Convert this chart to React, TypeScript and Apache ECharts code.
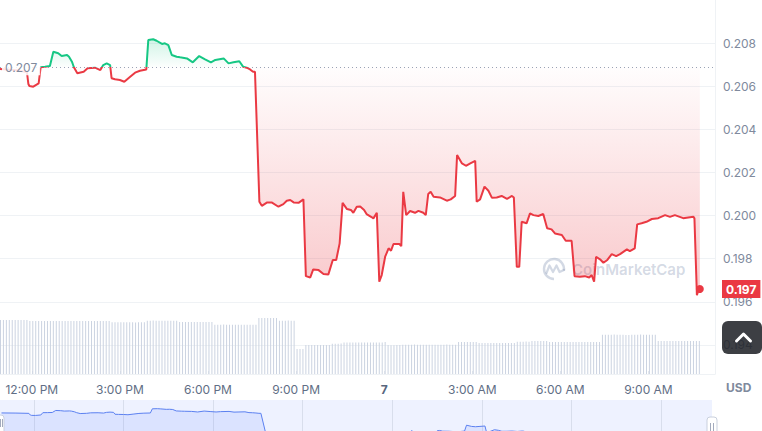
import React, { useEffect, useRef } from 'react';
import * as echarts from 'echarts';

// time in minutes since midnight of day 6 (10:55 AM ... 10:45 AM next day)
const priceMinutes = [
  655, 684, 710, 713, 715, 723, 734, 738, 747, 757,
  764, 774, 781, 792, 796, 802, 806, 813, 826, 834,
  849, 860, 866, 873, 880, 883, 890, 900, 909, 921,
  931, 941, 954, 958, 968, 975, 986, 992, 999, 1006,
  1016, 1023, 1037, 1049, 1062, 1074, 1086, 1095, 1112, 1122,
  1132, 1144, 1152, 1159, 1166, 1172, 1176, 1185, 1190, 1201,
  1210, 1224, 1234, 1241, 1248, 1255, 1265, 1275, 1280, 1289,
  1295, 1306, 1316, 1326, 1335, 1342, 1349, 1355, 1364, 1372,
  1377, 1384, 1391, 1399, 1404, 1415, 1418, 1425, 1430, 1435,
  1442, 1449, 1454, 1459, 1471, 1475, 1479, 1485, 1493, 1503,
  1510, 1520, 1525, 1530, 1535, 1541, 1554, 1568, 1576, 1585,
  1589, 1599, 1607, 1616, 1626, 1629, 1636, 1645, 1653, 1660,
  1670, 1680, 1691, 1701, 1705, 1711, 1716, 1721, 1731, 1738,
  1745, 1755, 1765, 1773, 1782, 1789, 1803, 1811, 1823, 1829,
  1840, 1850, 1859, 1864, 1869, 1873, 1881, 1888, 1896, 1905,
  1914, 1922, 1936, 1942, 1952, 1957, 1966, 1976, 1987, 2000,
  2014, 2024, 2034, 2051, 2072, 2074, 2079, 2082, 2085,
];

const prices = [
  0.20680, 0.20675, 0.20666, 0.20610, 0.20601, 0.20598, 0.20613, 0.20688, 0.20690, 0.20694,
  0.20760, 0.20753, 0.20740, 0.20745, 0.20737, 0.20714, 0.20688, 0.20660, 0.20667, 0.20683,
  0.20686, 0.20675, 0.20698, 0.20706, 0.20698, 0.20637, 0.20632, 0.20629, 0.20621, 0.20644,
  0.20663, 0.20672, 0.20678, 0.20814, 0.20818, 0.20811, 0.20796, 0.20799, 0.20791, 0.20745,
  0.20737, 0.20734, 0.20729, 0.20711, 0.20740, 0.20725, 0.20711, 0.20722, 0.20729, 0.20706,
  0.20711, 0.20716, 0.20690, 0.20686, 0.20678, 0.20667, 0.20667, 0.20064, 0.20045, 0.20061,
  0.20061, 0.20041, 0.20053, 0.20069, 0.20072, 0.20061, 0.20059, 0.20075, 0.19719, 0.19713,
  0.19750, 0.19747, 0.19729, 0.19727, 0.19794, 0.19794, 0.19871, 0.20059, 0.20030, 0.20026,
  0.20013, 0.20041, 0.20042, 0.20026, 0.20007, 0.19992, 0.19987, 0.20013, 0.19693, 0.19724,
  0.19809, 0.19848, 0.19837, 0.19868, 0.19868, 0.19858, 0.20110, 0.20002, 0.20021, 0.20013,
  0.20022, 0.20013, 0.20002, 0.20100, 0.20110, 0.20087, 0.20084, 0.20069, 0.20075, 0.20091,
  0.20281, 0.20242, 0.20231, 0.20242, 0.20254, 0.20064, 0.20075, 0.20134, 0.20115, 0.20083,
  0.20084, 0.20091, 0.20077, 0.20091, 0.20084, 0.19762, 0.19762, 0.19971, 0.19964, 0.20010,
  0.20002, 0.19998, 0.20007, 0.19941, 0.19936, 0.19917, 0.19910, 0.19883, 0.19883, 0.19719,
  0.19716, 0.19719, 0.19713, 0.19724, 0.19693, 0.19809, 0.19797, 0.19781, 0.19794, 0.19821,
  0.19812, 0.19821, 0.19843, 0.19835, 0.19848, 0.19959, 0.19964, 0.19971, 0.19984, 0.19988,
  0.20002, 0.19994, 0.20002, 0.19988, 0.19994, 0.19987, 0.19631, 0.19654, 0.19659,
];

const openPrice = 0.206877;

// volume bars (millions), one every 6 minutes from 10:56 AM
const volumeStartMin = 656;
const volumeStepMin = 6;
const volumes = [
  5.40, 5.41, 5.40, 5.40, 5.39, 5.40, 5.40, 5.41, 5.40, 5.40,
  5.31, 5.30, 5.30, 5.30, 5.31, 5.30, 5.30, 5.30, 5.29, 5.30,
  5.30, 5.30, 5.31, 5.30, 5.30, 5.30, 5.30, 5.30, 5.30, 5.31,
  5.30, 5.30, 5.30, 5.30, 5.30, 5.30, 5.29, 5.30,
  5.17, 5.17, 5.17, 5.18, 5.17, 5.17, 5.17, 5.17, 5.16, 5.17, 5.17, 5.17,
  5.33, 5.33, 5.34, 5.33, 5.33, 5.33, 5.33, 5.32, 5.33, 5.33, 5.33,
  5.20, 5.20, 5.20, 5.21, 5.20, 5.20, 5.20, 5.20, 5.19, 5.20, 5.20, 5.20,
  4.93, 4.93, 4.93, 4.94, 4.93, 4.93, 4.93, 4.93, 4.92, 4.93, 4.93, 4.93, 4.93, 4.93, 4.93,
  5.60, 5.60, 5.61, 5.60, 5.60, 5.60, 5.59,
  5.33, 5.33, 5.33, 5.34, 5.33, 5.33,
  2.50, 2.50, 2.50,
  2.90, 2.90, 2.91, 2.90, 2.90, 2.90, 2.89, 2.90, 2.90,
  3.03, 3.03, 3.03, 3.04,
  3.15, 3.15, 3.15, 3.16, 3.15, 3.15, 3.15, 3.15, 3.14, 3.15, 3.15, 3.15, 3.15, 3.16, 3.20,
  2.90, 2.88, 2.88, 2.90, 2.90,
  2.93, 2.93, 2.93, 2.93, 2.94, 2.93, 2.93, 2.93, 2.93, 2.92,
  2.93, 2.93, 2.93, 2.93, 2.93, 2.94, 2.93, 2.93, 2.93,
  3.20, 3.20, 3.20, 3.21, 3.20, 3.20, 3.20,
  3.10, 3.10, 3.10, 3.11, 3.10, 3.10, 3.10, 3.10, 3.09, 3.10, 3.10, 3.10, 3.10,
  3.23, 3.23, 3.23, 3.24, 3.23,
  3.30, 3.30, 3.30, 3.31, 3.30, 3.30,
  3.20, 3.20, 3.20, 3.21, 3.20, 3.20, 3.20, 3.20, 3.19,
  3.20, 3.20, 3.20, 3.20, 3.21, 3.20, 3.20, 3.20, 3.20,
  3.93, 3.93, 3.93, 3.93, 3.94, 3.93, 3.93, 3.93, 3.90, 3.90,
  3.93, 3.93, 3.93, 3.94, 3.93, 3.93, 3.93, 3.93, 3.93,
  3.30, 3.30, 3.30, 3.31, 3.30, 3.30, 3.30, 3.30, 3.29, 3.30, 3.30, 3.30, 3.30, 3.30, 3.30,
];

const xTickMinutes = [720, 900, 1080, 1260, 1440, 1620, 1800, 1980];
const yTickValues = [0.194, 0.196, 0.198, 0.2, 0.202, 0.204, 0.206, 0.208];
const dayLabel = '7';
const currencyLabel = 'USD';
const watermarkText = 'CoinMarketCap';

const RED = '#ea3943';
const GREEN = '#16c784';
const FONT = 'Inter, "Noto Sans", sans-serif';

function formatMinute(m: number): string {
  const h = Math.floor(m / 60) % 24;
  if (h === 0) return '{day|' + dayLabel + '}';
  const h12 = h % 12 === 0 ? 12 : h % 12;
  return h12 + ':00 ' + (h < 12 ? 'AM' : 'PM');
}

export default function App() {
  const ref = useRef<HTMLDivElement>(null);

  useEffect(() => {
    document.body.style.margin = '0';
    if (!ref.current) return;
    const chart = echarts.init(ref.current, null, { renderer: 'svg' });

    const priceData = priceMinutes.map((m, i) => [m, prices[i]]);
    const volumeData = volumes.map((v, i) => [volumeStartMin + i * volumeStepMin, v]);
    const lastMin = priceMinutes[priceMinutes.length - 1];
    const lastPrice = prices[prices.length - 1];
    const maxP = Math.max(...prices);
    const minP = Math.min(...prices);
    const refOff = (maxP - openPrice) / (maxP - minP);

    const areaGradient = {
      type: 'linear',
      x: 0, y: 0, x2: 0, y2: 1,
      colorStops: [
        { offset: 0, color: 'rgba(22,199,132,0.2)' },
        { offset: refOff, color: 'rgba(22,199,132,0.01)' },
        { offset: refOff, color: 'rgba(234,57,67,0.01)' },
        { offset: 1, color: 'rgba(234,57,67,0.28)' },
      ],
    };

    const option: any = {
      animation: false,
      textStyle: { fontFamily: FONT },
      grid: [
        { left: 0, right: 47, top: 0, bottom: 57, outerBoundsMode: 'none' },
        { left: 0, right: 47, top: 310, bottom: 57, outerBoundsMode: 'none' },
        {
          left: 0, right: 50, top: 400, height: 60, show: true,
          backgroundColor: '#eef2ff', borderWidth: 0, outerBoundsMode: 'none',
        },
      ],
      xAxis: [
        {
          type: 'value', gridIndex: 0, min: 655, max: 2116,
          axisLine: { show: true, lineStyle: { color: '#eff2f5' } },
          axisTick: { show: true, inside: true, length: 3, customValues: xTickMinutes, lineStyle: { color: '#e3e7ee' } },
          splitLine: { show: false },
          axisLabel: {
            customValues: xTickMinutes,
            formatter: formatMinute,
            color: '#616e85',
            fontSize: 12,
            margin: 9,
            fontFamily: FONT,
            rich: { day: { fontWeight: 'bold', color: '#58667e', fontSize: 12, fontFamily: FONT } },
          },
        },
        { type: 'value', gridIndex: 1, min: 655, max: 2116, show: false },
        {
          type: 'value', gridIndex: 2, min: 652, max: 2082,
          axisLine: { show: false },
          axisTick: { show: false, customValues: xTickMinutes },
          axisLabel: { show: false, customValues: xTickMinutes },
          splitLine: { show: true, lineStyle: { color: '#d8deec' } },
        },
      ],
      yAxis: [
        {
          type: 'value', gridIndex: 0, position: 'right', min: 0.19265, max: 0.21,
          axisLine: { show: true, lineStyle: { color: '#eff2f5' } },
          axisTick: { show: false, customValues: yTickValues },
          axisLabel: {
            customValues: yTickValues,
            formatter: (v: number) => v.toFixed(3),
            color: '#808a9d',
            fontSize: 12,
            margin: 8,
            fontFamily: FONT,
          },
          splitLine: { show: true, lineStyle: { color: '#eff2f5' } },
        },
        { type: 'value', gridIndex: 1, min: 0, max: 6.4, show: false },
        { type: 'value', gridIndex: 2, min: 0.1915, max: 0.211, show: false },
      ],
      visualMap: {
        show: false,
        type: 'piecewise',
        seriesIndex: 0,
        dimension: 1,
        pieces: [
          { gte: 0.1, lt: openPrice, color: RED },
          { gte: openPrice, lte: 0.3, color: GREEN },
        ],
        outOfRange: { color: RED },
      },
      series: [
        {
          type: 'line',
          xAxisIndex: 0,
          yAxisIndex: 0,
          data: priceData,
          showSymbol: false,
          symbol: 'none',
          z: 3,
          lineStyle: { width: 2 },
          areaStyle: { origin: openPrice, color: areaGradient, opacity: 1 },
          markLine: {
            silent: true,
            precision: 6,
            symbol: ['none', 'none'],
            animation: false,
            data: [
              {
                yAxis: openPrice,
                lineStyle: { type: [1, 3], color: '#9aa3b5', width: 1 },
                label: {
                  show: true,
                  position: 'insideStart',
                  distance: 2,
                  formatter: openPrice.toFixed(3),
                  color: '#808a9d',
                  fontSize: 12,
                  fontFamily: FONT,
                  backgroundColor: 'rgba(255,255,255,0.85)',
                  padding: [2, 3],
                },
              },
              {
                yAxis: lastPrice,
                lineStyle: { color: 'rgba(0,0,0,0)', width: 0 },
                label: {
                  show: true,
                  position: 'end',
                  distance: 7,
                  formatter: lastPrice.toFixed(3),
                  color: '#ffffff',
                  backgroundColor: RED,
                  fontWeight: 'bold',
                  fontSize: 12,
                  fontFamily: FONT,
                  padding: [3, 4],
                },
              },
            ],
          },
          markPoint: {
            silent: true,
            symbol: 'circle',
            symbolSize: 8,
            label: { show: false },
            itemStyle: { color: RED },
            data: [{ coord: [lastMin, lastPrice], itemStyle: { color: RED } }],
          },
        },
        {
          type: 'bar',
          xAxisIndex: 1,
          yAxisIndex: 1,
          data: volumeData,
          barWidth: 1,
          silent: true,
          itemStyle: { color: '#cbd3e1' },
        },
        {
          type: 'line',
          xAxisIndex: 2,
          yAxisIndex: 2,
          data: priceData,
          showSymbol: false,
          symbol: 'none',
          silent: true,
          lineStyle: { width: 1, color: '#5b80f0' },
          itemStyle: { color: '#5b80f0' },
          areaStyle: { color: 'rgba(56,97,251,0.1)', origin: 'start', opacity: 1 },
        },
      ],
      graphic: [
        // watermark
        {
          type: 'arc', z: 1,
          shape: { cx: 554, cy: 269, r: 10, startAngle: Math.PI * 0.5, endAngle: Math.PI * 2.05, clockwise: true },
          style: { stroke: 'rgba(110,128,165,0.3)', lineWidth: 2.4, fill: null },
        },
        {
          type: 'polyline', z: 1,
          shape: { points: [[546.5, 273], [549.5, 265.5], [553, 272], [556.5, 265.5], [559.5, 272], [564, 270]] },
          style: { stroke: 'rgba(110,128,165,0.3)', lineWidth: 2.2, fill: null, lineJoin: 'round', lineCap: 'round' },
        },
        {
          type: 'text', z: 1, x: 572, y: 269,
          style: {
            text: watermarkText, fill: 'rgba(110,128,165,0.3)', font: '600 15px Inter, sans-serif',
            textAlign: 'left', textVerticalAlign: 'middle', align: 'left', verticalAlign: 'middle',
          },
        },
        // currency label
        {
          type: 'text', z: 10, x: 726, y: 387,
          style: {
            text: currencyLabel, fill: '#808a9d', font: 'bold 12px Inter, sans-serif',
            textAlign: 'left', textVerticalAlign: 'middle', align: 'left', verticalAlign: 'middle',
          },
        },
        // scroll-to-top button
        {
          type: 'rect', z: 100,
          shape: { x: 722, y: 321, width: 40, height: 33, r: 6 },
          style: { fill: 'rgba(34,36,42,0.88)' },
        },
        {
          type: 'polyline', z: 101,
          shape: { points: [[736.5, 341], [743.5, 334], [750.5, 341]] },
          style: { stroke: '#ffffff', lineWidth: 3, fill: null, lineCap: 'round', lineJoin: 'round' },
        },
        // navigator handles
        {
          type: 'rect', z: 100,
          shape: { x: 707, y: 417, width: 10, height: 22, r: 3 },
          style: { fill: '#ffffff', stroke: '#c9d0dd', lineWidth: 1 },
        },
        { type: 'line', z: 101, shape: { x1: 710.5, y1: 423, x2: 710.5, y2: 431 }, style: { stroke: '#a3abbd', lineWidth: 1 } },
        { type: 'line', z: 101, shape: { x1: 713.5, y1: 423, x2: 713.5, y2: 431 }, style: { stroke: '#a3abbd', lineWidth: 1 } },
        {
          type: 'rect', z: 100,
          shape: { x: -6, y: 415, width: 10, height: 22, r: 3 },
          style: { fill: '#ffffff', stroke: '#c9d0dd', lineWidth: 1 },
        },
        { type: 'line', z: 101, shape: { x1: 0.5, y1: 419, x2: 0.5, y2: 427 }, style: { stroke: '#a3abbd', lineWidth: 1 } },
        { type: 'line', z: 101, shape: { x1: 2.5, y1: 419, x2: 2.5, y2: 427 }, style: { stroke: '#a3abbd', lineWidth: 1 } },
      ],
    };

    chart.setOption(option);
    return () => chart.dispose();
  }, []);

  return <div ref={ref} style={{ width: 762, height: 431, overflow: 'hidden' }} />;
}
